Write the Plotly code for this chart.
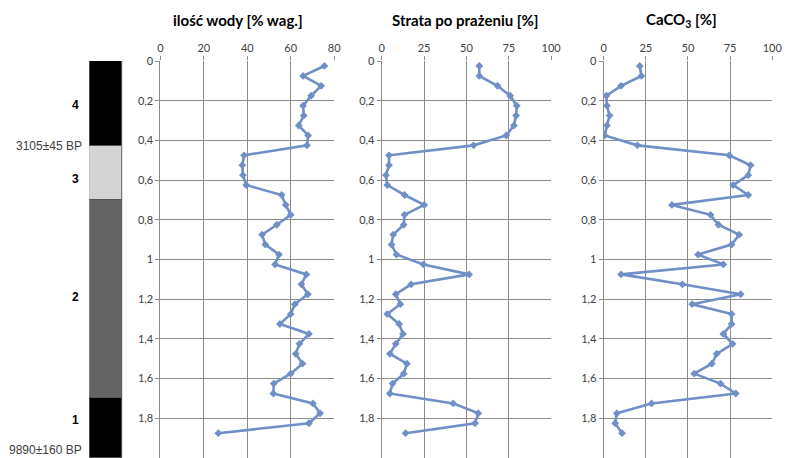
import plotly.graph_objects as go

depth = [0.025, 0.075, 0.125, 0.175, 0.225, 0.275, 0.325, 0.375, 0.425, 0.475,
         0.525, 0.575, 0.625, 0.675, 0.725, 0.775, 0.825, 0.875, 0.925, 0.975,
         1.025, 1.075, 1.125, 1.175, 1.225, 1.275, 1.325, 1.375, 1.425, 1.475,
         1.525, 1.575, 1.625, 1.675, 1.725, 1.775, 1.825, 1.875]

water = [75.5, 65.7, 74, 69.4, 65.7, 66, 63.7, 68, 67.5, 38.5,
         37.7, 38, 39.5, 55.8, 57.7, 60, 53.6, 46.8, 48.3, 54.6,
         52.8, 67.2, 64.9, 67.9, 61.9, 60, 55, 68.4, 64, 62.3,
         65.4, 60, 52.2, 52, 70.2, 73.5, 68.4, 26.7]

loss = [57.6, 57.6, 68.3, 75.8, 79.7, 79.3, 78, 73.5, 54.2, 4.3,
        4.3, 2.5, 3.3, 13.5, 25.1, 13.5, 13, 6.8, 5.8, 8.7,
        24.6, 51.6, 17.4, 8.3, 11, 3.3, 10.3, 12.6, 8.3, 4.8,
        14.9, 13, 6.4, 4.8, 42.2, 57, 55.1, 14.1]

caco3 = [21.4, 22.4, 10.3, 1.6, 1.9, 3.5, 1.9, 0.6, 20, 74.5,
         87.2, 85.8, 76.8, 85.8, 40.5, 63.4, 68.1, 80.4, 75.9, 56,
         71, 10.3, 46.7, 81.3, 52.5, 75.9, 75.9, 71, 76.5, 67.1,
         64.2, 53.7, 69.3, 78.4, 28.4, 7.8, 6.8, 10.9]

titles = ["ilość wody [% wag.]", "Strata po prażeniu [%]", "CaCO<sub>3</sub> [%]"]

layer_names = ["4", "3", "2", "1"]
layer_top = [0, 0.43, 0.70, 1.70]
layer_bottom = [0.43, 0.70, 1.70, 2.0]
layer_label_depth = [0.22, 0.595, 1.19, 1.81]
layer_colors = ["#000000", "#d4d4d4", "#646464", "#000000"]
dates = ["3105±45 BP", "9890±160 BP"]
date_depths = [0.43, 1.96]

W, H = 794, 458
TOP = 61
line_col = "#6f8fc6"
grid_col = "#8c8c8c"
tick_font = dict(family="Lato, Open Sans, sans-serif", size=11, color="#404040")

fig = go.Figure()

series = [water, loss, caco3]
xranges = [[0, 80], [0, 100], [0, 100]]
dticks = [20, 25, 25]
domains = [[160 / W, 336.7 / W], [385 / W, 557.3 / W], [610.7 / W, 782 / W]]
title_centers = [239, 470, 690]

for i, vals in enumerate(series):
    n = i + 1
    fig.add_trace(go.Scatter(
        x=vals, y=depth, mode="lines+markers",
        line=dict(color=line_col, width=2.6),
        marker=dict(symbol="diamond", size=6, color=line_col),
        xaxis="x" if n == 1 else f"x{n}", yaxis="y" if n == 1 else f"y{n}",
        showlegend=False))
    xa = dict(domain=domains[i], range=xranges[i], dtick=dticks[i], side="top",
              anchor="y" if n == 1 else f"y{n}",
              showgrid=True, gridcolor=grid_col, gridwidth=1,
              zeroline=False, showline=False,
              ticks="outside", ticklen=4, tickcolor=grid_col,
              tickfont=tick_font, fixedrange=True)
    ya = dict(domain=[0, 1], range=[2, 0], dtick=0.2,
              anchor="x" if n == 1 else f"x{n}",
              showgrid=True, gridcolor=grid_col, gridwidth=1,
              zeroline=False, showline=True, linecolor=grid_col, linewidth=1,
              ticks="outside", ticklen=4, tickcolor=grid_col,
              tickfont=tick_font, fixedrange=True)
    fig.layout["xaxis" if n == 1 else f"xaxis{n}"] = xa
    fig.layout["yaxis" if n == 1 else f"yaxis{n}"] = ya
    fig.add_annotation(text=f"<b>{titles[i]}</b>", x=title_centers[i] / W,
                       y=1 + (TOP - 20) / (H - TOP), xref="paper", yref="paper",
                       xanchor="center", yanchor="middle", showarrow=False,
                       font=dict(family="Lato, Open Sans, sans-serif", size=15, color="#000"))

# stratigraphic column
thickness = [b - t for t, b in zip(layer_top, layer_bottom)]
for name, t, th, c in zip(layer_names, layer_top, thickness, layer_colors):
    fig.add_trace(go.Bar(x=[0], y=[th], base=[t], width=1,
                         marker=dict(color=c, line=dict(color="#555555", width=1)),
                         xaxis="x4", yaxis="y4", showlegend=False, name=name))
fig.layout.xaxis4 = dict(domain=[87.7 / W, 121.7 / W], range=[-0.5, 0.5],
                         visible=False, anchor="y4", fixedrange=True)
fig.layout.yaxis4 = dict(domain=[0, 1], range=[2, 0], visible=False,
                         anchor="x4", fixedrange=True)

for name, yd in zip(layer_names, layer_label_depth):
    fig.add_annotation(text=f"<b>{name}</b>", x=79 / W, y=yd, xref="paper", yref="y4",
                       xanchor="right", yanchor="middle", showarrow=False,
                       font=dict(family="Liberation Sans, Arial, sans-serif", size=12, color="#000"))
for d, yd in zip(dates, date_depths):
    fig.add_annotation(text=d, x=82 / W, y=yd, xref="paper", yref="y4",
                       xanchor="right", yanchor="middle", showarrow=False,
                       font=dict(family="Liberation Sans, Arial, sans-serif", size=12, color="#404040"))

fig.update_layout(
    width=W, height=H, margin=dict(l=0, r=0, t=TOP, b=0),
    paper_bgcolor="white", plot_bgcolor="white",
    separators=", ", barmode="overlay", bargap=0,
)

fig.write_html("out.html")
